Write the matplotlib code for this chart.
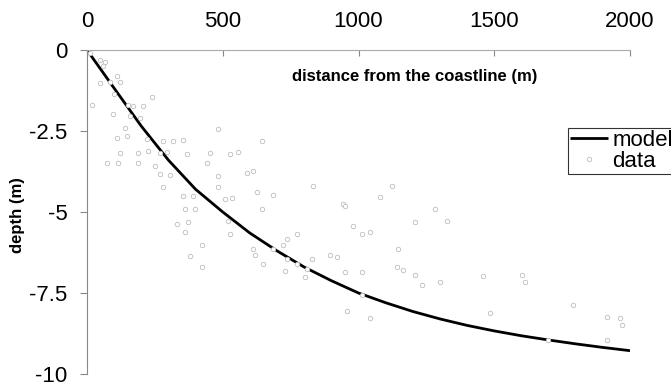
import matplotlib
matplotlib.use("Agg")
import matplotlib.pyplot as plt

plt.rcParams['font.family'] = ['Liberation Sans', 'DejaVu Sans']
plt.rcParams['axes.unicode_minus'] = False

# model curve (distance m, depth m)
model_x = [0, 100, 200, 300, 400, 500, 600, 700, 800, 900, 1000,
           1100, 1200, 1300, 1400, 1500, 1600, 1700, 1800, 1900, 2000]
model_d = [0, -1.18, -2.35, -3.4, -4.3, -5.0, -5.65, -6.2, -6.7, -7.12, -7.5,
           -7.8, -8.07, -8.3, -8.5, -8.67, -8.82, -8.95, -9.07, -9.18, -9.28]

# observed data
data_x = [10, 48, 66, 60, 109, 48, 85, 122, 100, 238, 17, 171, 208, 150,
          97, 158, 195, 140, 484, 109, 146, 220, 281, 318, 355, 643,
          122, 189, 226, 269, 293, 367, 453, 527, 557,
          72, 116, 189, 250, 441, 269, 306, 484, 588, 612,
          834, 281, 484, 355, 392, 508, 533, 625, 686,
          1122, 944, 1079, 950, 361, 398, 643, 1282,
          330, 373, 520, 1325, 1208, 981, 1012, 1042,
          361, 527, 772, 735, 422, 723, 613, 686, 1147,
          379, 619, 895, 827, 919, 735, 772, 809, 649,
          422, 729, 950, 1012, 1141, 1165, 1208, 803,
          1233, 1300, 1460, 1601, 1613,
          1012, 957, 1042, 1484, 1791, 1914, 1963, 1969, 1914, 1699]
data_d = [-0.1, -0.31, -0.36, -0.5, -0.8, -1.02, -1.0, -1.0, -1.35, -1.45, -1.69, -1.72, -1.72, -1.7,
          -1.97, -2.05, -2.1, -2.4, -2.45, -2.71, -2.66, -2.76, -2.8, -2.81, -2.78, -2.8,
          -3.17, -3.17, -3.12, -3.17, -3.15, -3.2, -3.17, -3.2, -3.15,
          -3.48, -3.48, -3.5, -3.58, -3.48, -3.83, -3.85, -3.89, -3.8, -3.73,
          -4.19, -4.22, -4.22, -4.5, -4.52, -4.6, -4.58, -4.38, -4.48,
          -4.19, -4.75, -4.55, -4.8, -4.9, -4.9, -4.9, -4.9,
          -5.37, -5.32, -5.27, -5.27, -5.32, -5.42, -5.67, -5.62,
          -5.62, -5.67, -5.67, -5.83, -6.03, -6.03, -6.13, -6.13, -6.13,
          -6.36, -6.34, -6.34, -6.44, -6.39, -6.44, -6.6, -6.75, -6.6,
          -6.7, -6.83, -6.85, -6.85, -6.7, -6.8, -6.95, -7.0,
          -7.26, -7.16, -6.97, -6.95, -7.15,
          -7.57, -8.05, -8.28, -8.13, -7.86, -8.23, -8.28, -8.49, -8.95, -8.95]

x_ticks = [0, 500, 1000, 1500, 2000]
y_ticks = [0, -2.5, -5, -7.5, -10]
y_tick_labels = ['0', '-2.5', '-5', '-7.5', '-10']

W, H = 671, 385
fig = plt.figure(figsize=(W / 100, H / 100), dpi=100)
ax = fig.add_axes([87 / W, 1 - 374 / H, 543 / W, 324 / H])

ax.plot(model_x, model_d, color='black', lw=2.0, zorder=2, label='model',
        solid_capstyle='butt')
ax.plot(data_x, data_d, ls='none', marker='o', ms=3.2, mfc='white',
        mec='#bdbdbd', mew=0.6, zorder=3, label='data')

ax.set_xlim(0, 2000)
ax.set_ylim(-10, 0)
ax.xaxis.tick_top()
ax.set_xticks(x_ticks)
ax.set_xticklabels([str(v) for v in x_ticks])
ax.set_yticks(y_ticks)
ax.set_yticklabels(y_tick_labels)
ax.tick_params(axis='x', direction='in', length=4, width=0.8, color='#888888',
               labelsize=16, pad=13)
ax.tick_params(axis='y', direction='out', length=5, width=0.8, color='#888888',
               labelsize=16, pad=9)

for s in ['right', 'bottom']:
    ax.spines[s].set_visible(False)
ax.spines['left'].set_color('#888888')
ax.spines['left'].set_linewidth(0.8)
ax.spines['top'].set_color('#aaaaaa')
ax.spines['top'].set_linewidth(0.8)

fig.text(415 / W, 1 - 77 / H, 'distance from the coastline (m)', fontsize=12,
         fontweight='bold', ha='center', va='center')
fig.text(18 / W, 1 - 215 / H, 'depth (m)', fontsize=12, fontweight='bold',
         rotation=90, ha='center', va='center')

leg = ax.legend(loc='upper left', bbox_to_anchor=(568 / W, 1 - 128 / H),
                bbox_transform=fig.transFigure, frameon=True, fancybox=False,
                fontsize=16, handlelength=1.7, handletextpad=0.2,
                borderpad=0.1, labelspacing=0.0, borderaxespad=0)
leg.get_frame().set_edgecolor('black')
leg.get_frame().set_linewidth(0.8)

fig.savefig('out.png', dpi=100)
